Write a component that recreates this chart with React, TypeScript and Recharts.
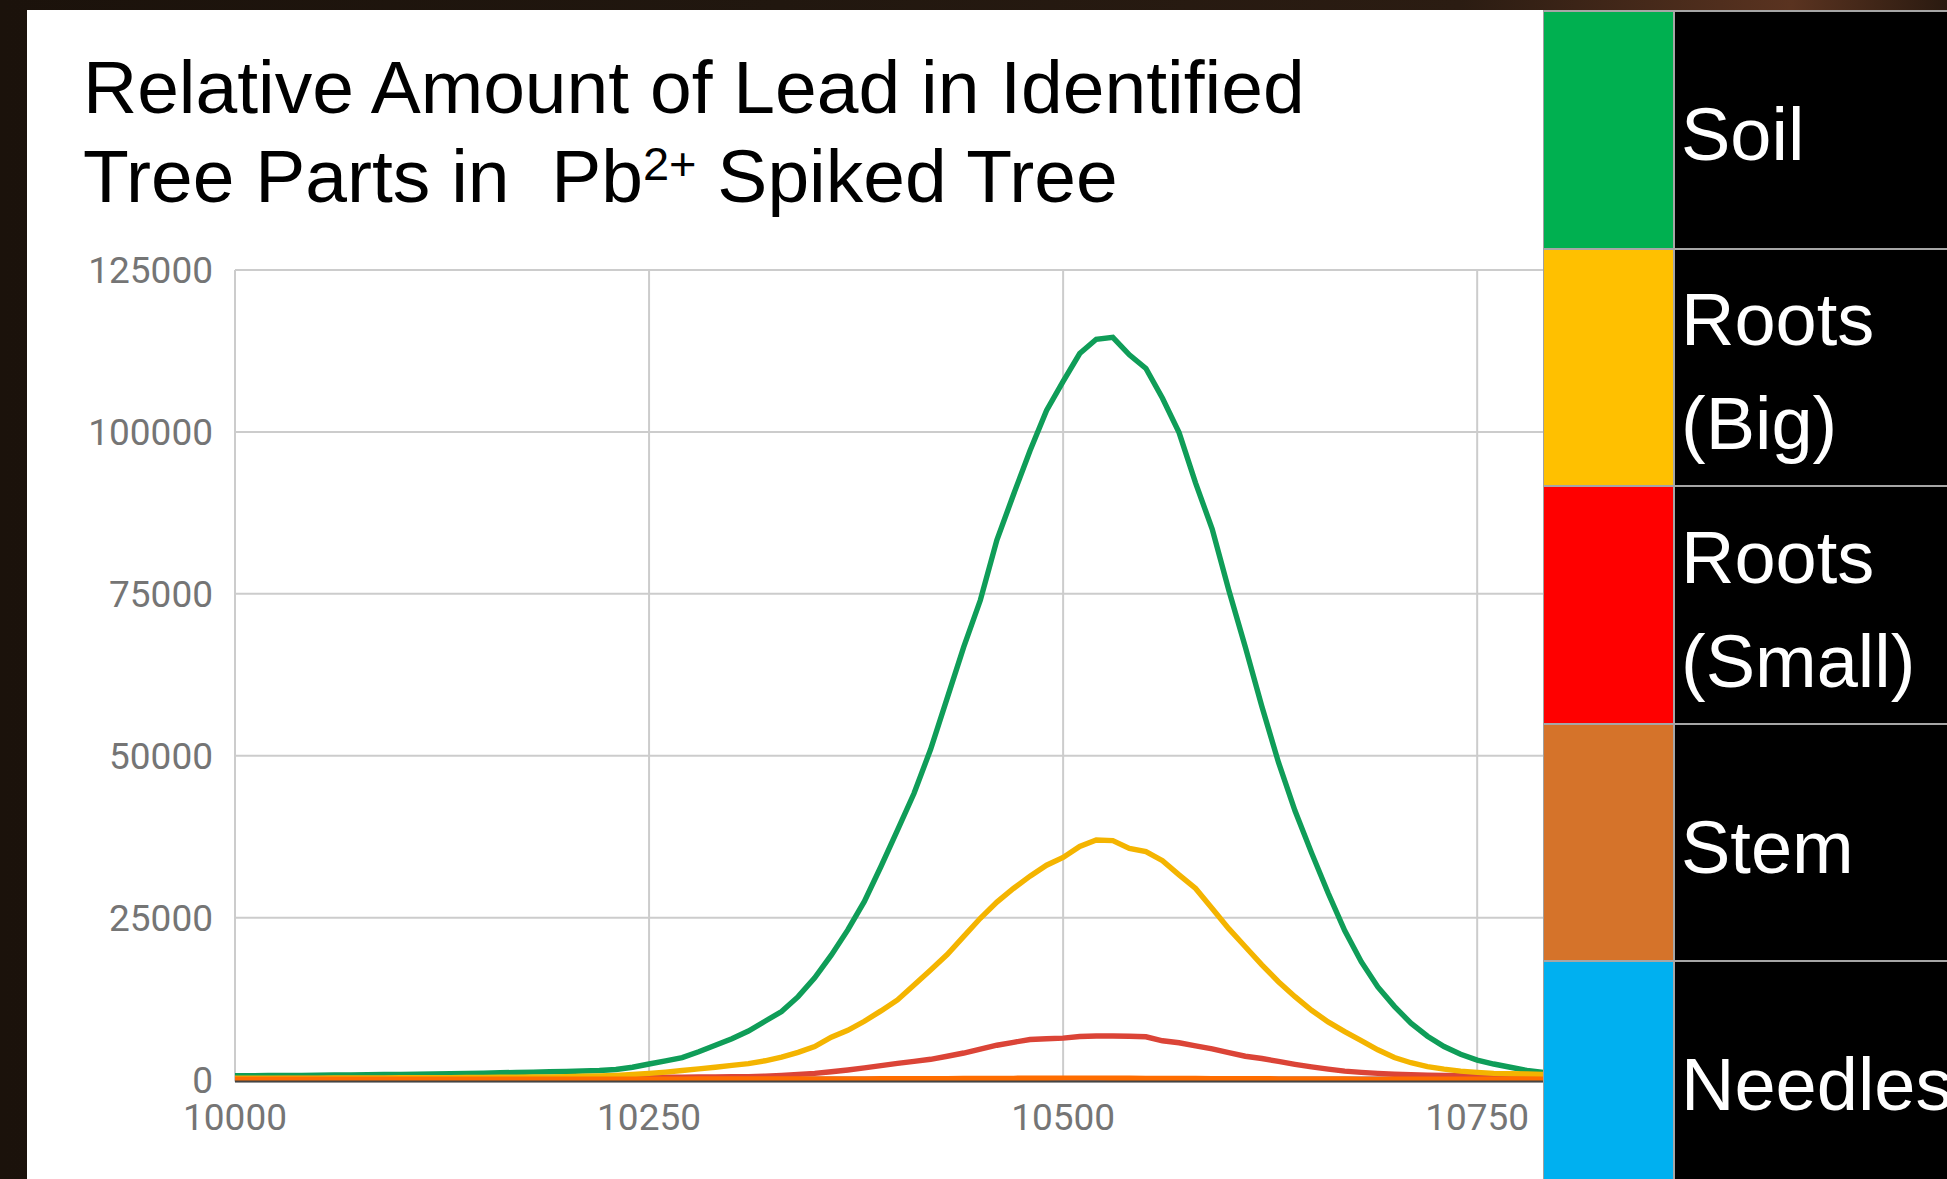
import React from 'react';
import { LineChart, Line, XAxis, YAxis, CartesianGrid } from 'recharts';

const xValues = [
  10000, 10010, 10020, 10030, 10040, 10050, 10060, 10070, 10080, 10090,
  10100, 10110, 10120, 10130, 10140, 10150, 10160, 10170, 10180, 10190,
  10200, 10210, 10220, 10230, 10240, 10250, 10260, 10270, 10280, 10290,
  10300, 10310, 10320, 10330, 10340, 10350, 10360, 10370, 10380, 10390,
  10400, 10410, 10420, 10430, 10440, 10450, 10460, 10470, 10480, 10490,
  10500, 10510, 10520, 10530, 10540, 10550, 10560, 10570, 10580, 10590,
  10600, 10610, 10620, 10630, 10640, 10650, 10660, 10670, 10680, 10690,
  10700, 10710, 10720, 10730, 10740, 10750, 10760, 10770, 10780, 10790,
];

const soil = [
  590, 600, 620, 630, 650, 670, 700, 720, 750, 770,
  800, 830, 870, 910, 950, 1000, 1050, 1100, 1150, 1200,
  1250, 1320, 1400, 1550, 1900, 2400, 2900, 3400, 4300, 5300,
  6300, 7500, 9000, 10500, 12800, 15700, 19200, 23100, 27500, 32900,
  38500, 44200, 51000, 58900, 66800, 74000, 83300, 90300, 97100, 103300,
  107800, 112100, 114300, 114600, 111900, 109800, 105200, 99900, 92100, 85000,
  75600, 66800, 57600, 49000, 41500, 35000, 28800, 23000, 18200, 14300,
  11300, 8700, 6700, 5100, 3900, 3000, 2400, 1900, 1400, 1100,
];

const rootsBig = [
  200, 200, 210, 210, 220, 220, 230, 240, 250, 260,
  270, 280, 290, 300, 320, 340, 360, 380, 400, 420,
  450, 500, 560, 650, 780, 950, 1150, 1400, 1650, 1900,
  2200, 2450, 2900, 3450, 4200, 5100, 6550, 7600, 9000, 10600,
  12300, 14600, 16900, 19300, 22100, 24900, 27400, 29500, 31400, 33100,
  34300, 36000, 37000, 36900, 35700, 35200, 33800, 31600, 29500, 26400,
  23300, 20500, 17700, 15100, 12800, 10700, 8900, 7400, 6000, 4600,
  3400, 2600, 2000, 1600, 1300, 1100, 950, 900, 850, 800,
];

const rootsSmall = [
  150, 150, 150, 160, 160, 160, 170, 170, 180, 180,
  190, 190, 200, 200, 210, 210, 220, 230, 240, 250,
  260, 270, 290, 300, 320, 340, 360, 380, 400, 420,
  430, 450, 520, 650, 800, 960, 1200, 1480, 1800, 2150,
  2500, 2800, 3130, 3600, 4100, 4700, 5300, 5750, 6180, 6300,
  6400, 6650, 6720, 6720, 6680, 6600, 5990, 5680, 5200, 4750,
  4150, 3600, 3250, 2800, 2350, 1950, 1600, 1300, 1100, 950,
  820, 740, 690, 650, 620, 600, 580, 560, 540, 530,
];

const stem = [
  60, 60, 60, 60, 60, 60, 60, 60, 60, 60,
  60, 60, 60, 60, 60, 60, 60, 60, 60, 60,
  60, 60, 60, 70, 70, 70, 70, 70, 80, 80,
  80, 80, 90, 90, 90, 100, 100, 110, 110, 120,
  120, 130, 140, 150, 160, 170, 180, 190, 200, 210,
  220, 220, 220, 210, 200, 190, 180, 170, 160, 150,
  140, 130, 120, 110, 100, 90, 80, 80, 70, 70,
  70, 60, 60, 60, 60, 60, 60, 60, 60, 60,
];

const needles = [
  40, 40, 40, 40, 40, 40, 40, 40, 40, 40,
  40, 40, 40, 40, 40, 40, 40, 40, 40, 40,
  40, 40, 40, 40, 40, 40, 40, 40, 40, 40,
  40, 40, 50, 50, 50, 50, 50, 60, 60, 60,
  60, 70, 70, 80, 80, 90, 90, 100, 100, 110,
  110, 110, 110, 110, 100, 100, 90, 90, 80, 80,
  70, 70, 60, 60, 50, 50, 50, 40, 40, 40,
  40, 40, 40, 40, 40, 40, 40, 40, 40, 40,
];

const xTicks = [10000, 10250, 10500, 10750];
const yTicks = [0, 25000, 50000, 75000, 100000, 125000];

const seriesKeys = ['needles', 'soil', 'rootsSmall', 'rootsBig', 'stem'];
const seriesNames = ['Needles', 'Soil', 'Roots (Small)', 'Roots (Big)', 'Stem'];
const lineColors = ['#4285f4', '#0f9d58', '#db4437', '#f4b400', '#ff6d00'];

const legendLines = [['Soil'], ['Roots', '(Big)'], ['Roots', '(Small)'], ['Stem'], ['Needles']];
const legendSwatches = ['#00b050', '#ffc000', '#ff0000', '#d5732a', '#00b0f0'];

const titleLine1 = 'Relative Amount of Lead in Identified';
const titleLine2a = 'Tree Parts in  Pb';
const titleSup = '2+';
const titleLine2b = ' Spiked Tree';

const data = xValues.map((x, i) => ({
  x,
  soil: soil[i],
  rootsBig: rootsBig[i],
  rootsSmall: rootsSmall[i],
  stem: stem[i],
  needles: needles[i],
}));

const tickStyle = { fontFamily: 'Roboto', fontSize: 37, fill: '#757575' };

export default function App() {
  return (
    <div
      style={{
        position: 'fixed',
        left: 0,
        top: 0,
        width: 1947,
        height: 1179,
        overflow: 'hidden',
        background: 'linear-gradient(90deg, #1b120b 0%, #21170f 40%, #2b1c12 75%, #5a3320 92%, #2a1a10 100%)',
      }}
    >
      <div style={{ position: 'absolute', left: 27, top: 10, width: 1520, height: 1169, background: '#ffffff' }} />
      <div
        style={{
          position: 'absolute',
          left: 83,
          top: 43,
          fontFamily: '"Liberation Sans", Arial, sans-serif',
          fontSize: 75,
          lineHeight: '89px',
          color: '#000000',
          whiteSpace: 'pre',
        }}
      >
        <div>{titleLine1}</div>
        <div>
          {titleLine2a}
          <span style={{ fontSize: 47, position: 'relative', top: -22 }}>{titleSup}</span>
          {titleLine2b}
        </div>
      </div>
      <div style={{ position: 'absolute', left: 0, top: 0 }}>
        <LineChart width={1560} height={1179} data={data} margin={{ top: 270, right: 0, bottom: 37.5, left: 0 }}>
          <CartesianGrid stroke="#cccccc" strokeWidth={2} />
          <XAxis
            dataKey="x"
            type="number"
            domain={[10000, 10800]}
            allowDataOverflow
            ticks={xTicks}
            height={60}
            tickSize={0}
            tickMargin={22}
            tickLine={false}
            axisLine={{ stroke: '#444444', strokeWidth: 2 }}
            tick={tickStyle}
          />
          <YAxis
            type="number"
            domain={[-300, 125000]}
            allowDataOverflow
            ticks={yTicks}
            width={235}
            tickSize={0}
            tickMargin={22}
            tickLine={false}
            axisLine={false}
            tick={tickStyle}
          />
          {seriesKeys.map((k, i) => (
            <Line
              key={k}
              dataKey={k}
              name={seriesNames[i]}
              type="linear"
              stroke={lineColors[i]}
              strokeWidth={5.4}
              dot={false}
              activeDot={false}
              isAnimationActive={false}
            />
          ))}
        </LineChart>
      </div>
      <div
        style={{
          position: 'absolute',
          left: 1543,
          top: 10,
          width: 404,
          height: 1190,
          borderLeft: '1px solid #a0a0a0',
          boxSizing: 'border-box',
        }}
      >
        {legendLines.map((lines, i) => (
          <div
            key={i}
            style={{
              display: 'flex',
              height: 237.6,
              boxSizing: 'border-box',
              borderTop: '2px solid #a6a6a6',
            }}
          >
            <div
              style={{
                flex: '0 0 131px',
                width: 131,
                background: legendSwatches[i],
                borderRight: '2px solid #a6a6a6',
                boxSizing: 'border-box',
              }}
            />
            <div
              style={{
                flex: '1 1 0',
                minWidth: 0,
                overflow: 'hidden',
                background: '#000000',
                color: '#ffffff',
                fontFamily: '"Liberation Sans", Arial, sans-serif',
                fontSize: 74,
                lineHeight: '104px',
                display: 'flex',
                flexDirection: 'column',
                justifyContent: 'center',
                paddingTop: 10,
                paddingLeft: 6,
                whiteSpace: 'nowrap',
                boxSizing: 'border-box',
              }}
            >
              {lines.map((t, j) => (
                <div key={j}>{t}</div>
              ))}
            </div>
          </div>
        ))}
      </div>
    </div>
  );
}
